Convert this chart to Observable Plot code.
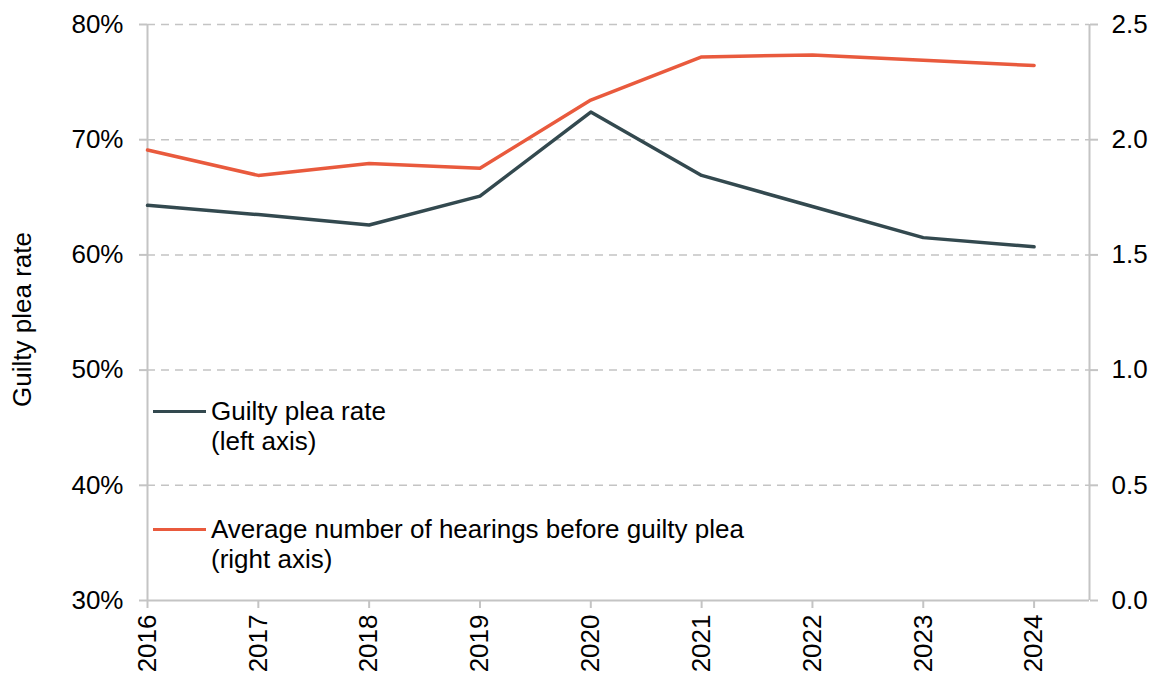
<!DOCTYPE html>
<html>
<head>
<meta charset="utf-8">
<script src="https://cdn.jsdelivr.net/npm/d3@7"></script>
<script src="https://cdn.jsdelivr.net/npm/@observablehq/plot@0.6"></script>
<style>
  html, body { margin: 0; padding: 0; background: #fff; }
  #wrap { position: relative; width: 1156px; height: 679px; font-family: "Liberation Sans", Arial, sans-serif; }
  .legend { position: absolute; left: 153px; top: 396px; font-size: 26px; line-height: 30px; color: #000; }
  .entry { display: flex; align-items: flex-start; }
  .sw { width: 53px; height: 3.5px; margin-top: 13.5px; margin-right: 5px; flex: none; }
  .entry + .entry { margin-top: 58px; }
</style>
</head>
<body>
<div id="wrap"></div>
<script>
const years = [2016, 2017, 2018, 2019, 2020, 2021, 2022, 2023, 2024];
const guiltyPleaRate = [64.3, 63.5, 62.6, 65.1, 72.4, 66.9, 64.2, 61.5, 60.7];
const avgHearings = [1.955, 1.845, 1.897, 1.876, 2.172, 2.359, 2.368, 2.345, 2.322];
const leftTicks = [30, 40, 50, 60, 70, 80];
const rightTicks = [0, 0.5, 1.0, 1.5, 2.0, 2.5];
const seriesNames = ["Guilty plea rate", "Average number of hearings before guilty plea"];
const seriesColors = ["#33494f", "#e95a3d"];

// right axis (0–2.5) shares the plot height with left axis (30–80%)
const toLeft = v => 30 + v * 20;
const fromLeft = y => (y - 30) / 20;

const plea = years.map((y, i) => ({year: y, value: guiltyPleaRate[i]}));
const hear = years.map((y, i) => ({year: y, value: toLeft(avgHearings[i])}));

const chart = Plot.plot({
  width: 1156,
  height: 679,
  marginLeft: 147,
  marginRight: 67,
  marginTop: 24,
  marginBottom: 79,
  style: {fontFamily: "'Liberation Sans', Arial, sans-serif", fontSize: "26px", color: "#000", background: "#fff"},
  x: {type: "linear", domain: [2016, 2024.5]},
  y: {domain: [30, 80]},
  marks: [
    Plot.gridY(leftTicks.slice(1), {stroke: "#c4c4c4", strokeOpacity: 1, strokeWidth: 1.5, strokeDasharray: "8,6"}),
    Plot.ruleX([2016], {stroke: "#c4c4c4", strokeWidth: 2}),
    Plot.ruleX([2024.5], {stroke: "#c4c4c4", strokeWidth: 2}),
    Plot.ruleY([30], {stroke: "#c4c4c4", strokeWidth: 2}),
    Plot.axisY({ticks: leftTicks, tickFormat: d => d + "%", tickSize: 8, tickPadding: 16, stroke: "#c4c4c4", strokeWidth: 2, fill: "#000", fontSize: 26, label: null}),
    Plot.axisY({anchor: "right", ticks: rightTicks.map(toLeft), tickFormat: d => fromLeft(d).toFixed(1), tickSize: 8, tickPadding: 14, stroke: "#c4c4c4", strokeWidth: 2, fill: "#000", fontSize: 26, label: null}),
    Plot.axisX({ticks: years, tickFormat: d => String(d), tickRotate: -90, tickSize: 8, tickPadding: 6, stroke: "#c4c4c4", strokeWidth: 2, fill: "#000", fontSize: 26, label: null}),
    Plot.text(["Guilty plea rate"], {frameAnchor: "left", textAnchor: "middle", dx: -125, dy: 7, rotate: -90, fontSize: 26, fill: "#000"}),
    Plot.line(plea, {x: "year", y: "value", stroke: seriesColors[0], strokeWidth: 3.5}),
    Plot.line(hear, {x: "year", y: "value", stroke: seriesColors[1], strokeWidth: 3.5})
  ]
});

const wrap = document.getElementById("wrap");
wrap.appendChild(chart);

const legend = document.createElement("div");
legend.className = "legend";
const sub = ["(left axis)", "(right axis)"];
seriesNames.forEach((name, i) => {
  const e = document.createElement("div");
  e.className = "entry";
  const sw = document.createElement("div");
  sw.className = "sw";
  sw.style.background = seriesColors[i];
  const t = document.createElement("div");
  t.innerHTML = name + "<br>" + sub[i];
  e.appendChild(sw); e.appendChild(t);
  legend.appendChild(e);
});
wrap.appendChild(legend);
</script>
</body>
</html>
